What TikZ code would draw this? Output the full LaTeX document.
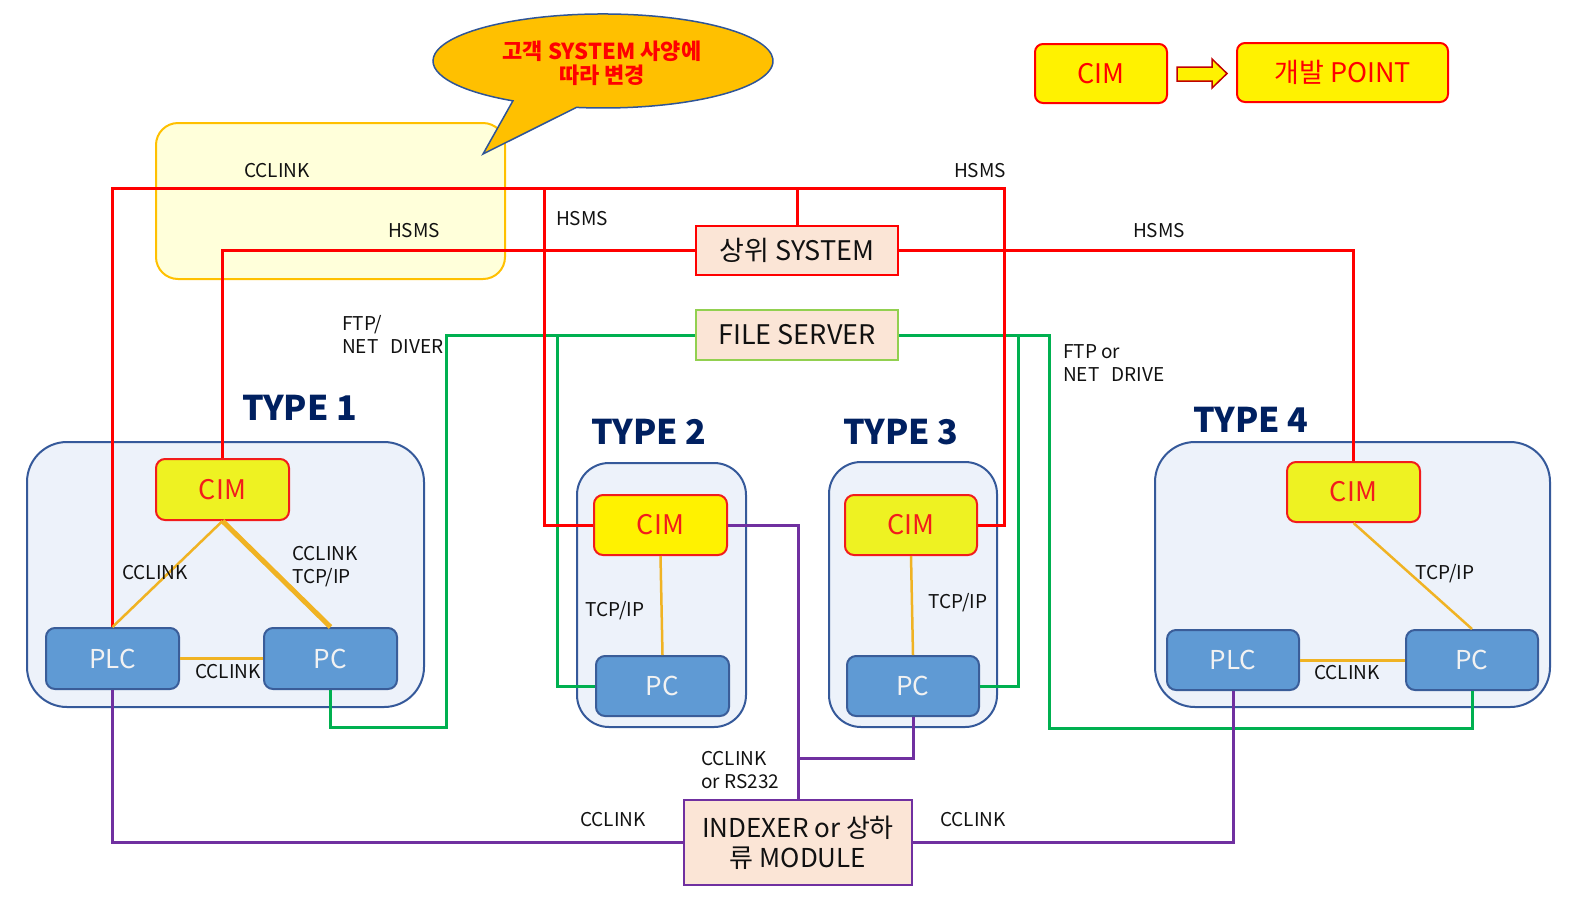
\documentclass[tikz,border=0pt]{standalone}
\usepackage{fontspec}
\setmainfont{Noto Sans CJK KR}
\definecolor{lred}{HTML}{FF0000}
\definecolor{lgreen}{HTML}{00B050}
\definecolor{lpurple}{HTML}{7030A0}
\definecolor{lyel}{HTML}{F0B323}
\definecolor{contfill}{HTML}{EDF2FA}
\definecolor{contdraw}{HTML}{35599A}
\definecolor{unitfill}{HTML}{5F9AD4}
\definecolor{unitdraw}{HTML}{3A5D99}
\definecolor{cimfill}{HTML}{EEF222}
\definecolor{cimred}{HTML}{F21C1C}
\definecolor{peach}{HTML}{FBE5D6}
\definecolor{fsgreen}{HTML}{92D050}
\definecolor{typeblue}{HTML}{002060}
\definecolor{calfill}{HTML}{FFC000}
\definecolor{caldraw}{HTML}{2F5597}
\definecolor{notefill}{HTML}{FFFFDA}
\definecolor{notedraw}{HTML}{FFC000}
\definecolor{arrdraw}{HTML}{C00000}
\definecolor{txt}{HTML}{111111}
\begin{document}
\begin{tikzpicture}[x=1pt,y=-1pt,
  lbl/.style={font=\fontsize{19}{23}\selectfont, text=txt, inner sep=0pt, align=left},
  box/.style={draw, line width=2pt, inner sep=0pt, minimum width=133pt, minimum height=61pt, rounded corners=9pt},
  cimbox/.style={box, draw=cimred, fill=cimfill, text=cimred, font=\fontsize{27}{30}\selectfont},
  unitbox/.style={box, draw=unitdraw, fill=unitfill, text=white!95!black, font=\fontsize{26}{30}\selectfont},
  cont/.style={draw=contdraw, fill=contfill, line width=2pt},
  sysbox/.style={draw, line width=2pt, fill=peach, inner sep=0pt, minimum width=202pt, minimum height=49pt, text=txt, font=\fontsize{27}{30}\selectfont},
  typelbl/.style={font=\fontsize{34}{37}\selectfont\bfseries, text=typeblue, inner sep=0pt},
  redline/.style={draw=lred, line width=3pt},
  greenline/.style={draw=lgreen, line width=3pt},
  purpline/.style={draw=lpurple, line width=3pt},
  yelline/.style={draw=lyel, line width=2.5pt},
  legbox/.style={draw=lred, fill=yellow, line width=2pt, rounded corners=8pt, inner sep=0pt, minimum height=59pt, text=lred, font=\fontsize{27}{30}\selectfont}
]
\useasboundingbox (0,0) rectangle (1581,911);

% note box
\filldraw[fill=notefill, draw=notedraw, line width=2pt, rounded corners=22pt] (156,123) rectangle (505,279);

% callout
\filldraw[fill=calfill, draw=caldraw, line width=1.5pt, line join=miter]
  (576.4,107.4) arc[start angle=99, end angle=-238, x radius=170, y radius=47] -- (483,154) -- cycle;
\node[font=\fontsize{22}{24}\selectfont\bfseries, text=lred, align=center, inner sep=0pt] (callout) at (602,63) {고객 SYSTEM 사양에\\따라 변경};

% legend
\node[legbox, minimum width=132pt] (legcim) at (1101,73.5) {CIM};
\node[legbox, minimum width=211pt] (legdev) at (1342.5,72.5) {개발 POINT};
\filldraw[fill=yellow, draw=arrdraw, line width=1.5pt] (1177,67) -- (1212,67) -- (1212,59) -- (1227,73.5) -- (1212,88) -- (1212,81) -- (1177,81) -- cycle;

% containers
\filldraw[cont, rounded corners=40pt] (27,442) rectangle (424,707);
\filldraw[cont, rounded corners=32pt] (577,463) rectangle (746,727);
\filldraw[cont, rounded corners=32pt] (829,462) rectangle (997,727);
\filldraw[cont, rounded corners=40pt] (1155,442) rectangle (1550,707);

% type labels
\node[typelbl] (t1) at (299.5,408) {TYPE 1};
\node[typelbl] (t2) at (649,432) {TYPE 2};
\node[typelbl] (t3) at (901,432) {TYPE 3};
\node[typelbl] (t4) at (1251,420) {TYPE 4};

% nodes
\node[sysbox, draw=lred] (sys) at (797,250.5) {상위 SYSTEM};
\node[sysbox, draw=fsgreen, minimum height=50pt] (fs) at (797,335) {FILE SERVER};

\node[cimbox] (cim1) at (222.5,489.5) {CIM};
\node[unitbox] (plc1) at (112.5,658.5) {PLC};
\node[unitbox] (pc1) at (330.5,658.5) {PC};

\node[cimbox, fill=yellow, minimum height=60pt] (cim2) at (660.5,525) {CIM};
\node[unitbox, minimum height=60pt] (pc2) at (662.5,686) {PC};

\node[cimbox, minimum width=132pt, minimum height=60pt] (cim3) at (911,525) {CIM};
\node[unitbox, minimum width=132pt, minimum height=60pt] (pc3) at (913,686) {PC};

\node[cimbox, minimum height=60pt] (cim4) at (1353.5,492) {CIM};
\node[unitbox, minimum width=132pt, minimum height=60pt] (plc4) at (1233,660) {PLC};
\node[unitbox, minimum width=132pt, minimum height=60pt] (pc4) at (1472,660) {PC};

\node[draw=lpurple, line width=2pt, fill=peach, inner sep=0pt, minimum width=228pt, minimum height=85pt, align=center, text=txt, font=\fontsize{26}{30}\selectfont] (idx) at (798,842.5) {INDEXER or 상하\\류 MODULE};

% coordinates
\coordinate (r1) at (1004,188);
\coordinate (r2) at (544,188);
\coordinate (g1) at (446,727);
\coordinate (g2) at (557,335);
\coordinate (g3) at (1049,728);
\coordinate (g4) at (1018,335);
\coordinate (p1) at (798,758);

% green
\draw[greenline] (fs.west) -| (g1) -| (pc1.south);
\draw[greenline] (g2) |- (pc2.west);
\draw[greenline] (fs.east) -| (g3) -| (pc4.south);
\draw[greenline] (g4) |- (pc3.east);

% red
\draw[redline] (plc1.north) |- (r1) |- (cim3.east);
\draw[redline] (sys.north) -- (sys.north |- r1);
\draw[redline] (r2) |- (cim2.west);
\draw[redline] (cim1.north) |- (sys.west);
\draw[redline] (sys.east) -| (cim4.north);

% purple
\draw[purpline] (plc1.south) |- (idx.west);
\draw[purpline] (idx.east) -| (plc4.south);
\draw[purpline] (cim2.east) -| (idx.north);
\draw[purpline] (pc3.south) |- (p1);

% yellow
\draw[yelline] (cim1.south) -- (plc1.north);
\draw[yelline, line width=5pt] (cim1.south) -- (pc1.north);
\draw[yelline, line width=3pt] (plc1.east) -- (pc1.west);
\draw[yelline] (cim2.south) -- (pc2.north);
\draw[yelline] (cim3.south) -- (pc3.north);
\draw[yelline] (cim4.south) -- (pc4.north);
\draw[yelline, line width=3pt] (plc4.east) -- (pc4.west);

% labels
\node[lbl] (l1) at (277,171) {CCLINK};
\node[lbl] (l2) at (414,231) {HSMS};
\node[lbl] (l3) at (582,219) {HSMS};
\node[lbl] (l4) at (980,171) {HSMS};
\node[lbl] (l5) at (1159,231) {HSMS};
\node[lbl, anchor=west] (l6) at (342,334) {FTP/\\NET\hspace{12pt}DIVER};
\node[lbl, anchor=west] (l7) at (1063,363) {FTP or\\NET\hspace{12pt}DRIVE};
\node[lbl] (l8) at (155,573) {CCLINK};
\node[lbl, anchor=west] (l9) at (292,567) {CCLINK\\TCP/IP};
\node[lbl] (l10) at (228,672) {CCLINK};
\node[lbl] (l11) at (615,611) {TCP/IP};
\node[lbl] (l12) at (958,603) {TCP/IP};
\node[lbl] (l13) at (1445,574) {TCP/IP};
\node[lbl] (l14) at (1347,673) {CCLINK};
\node[lbl, anchor=west] (l15) at (701,770) {CCLINK\\or RS232};
\node[lbl] (l16) at (613,820) {CCLINK};
\node[lbl] (l17) at (973,820) {CCLINK};
\end{tikzpicture}
\end{document}
